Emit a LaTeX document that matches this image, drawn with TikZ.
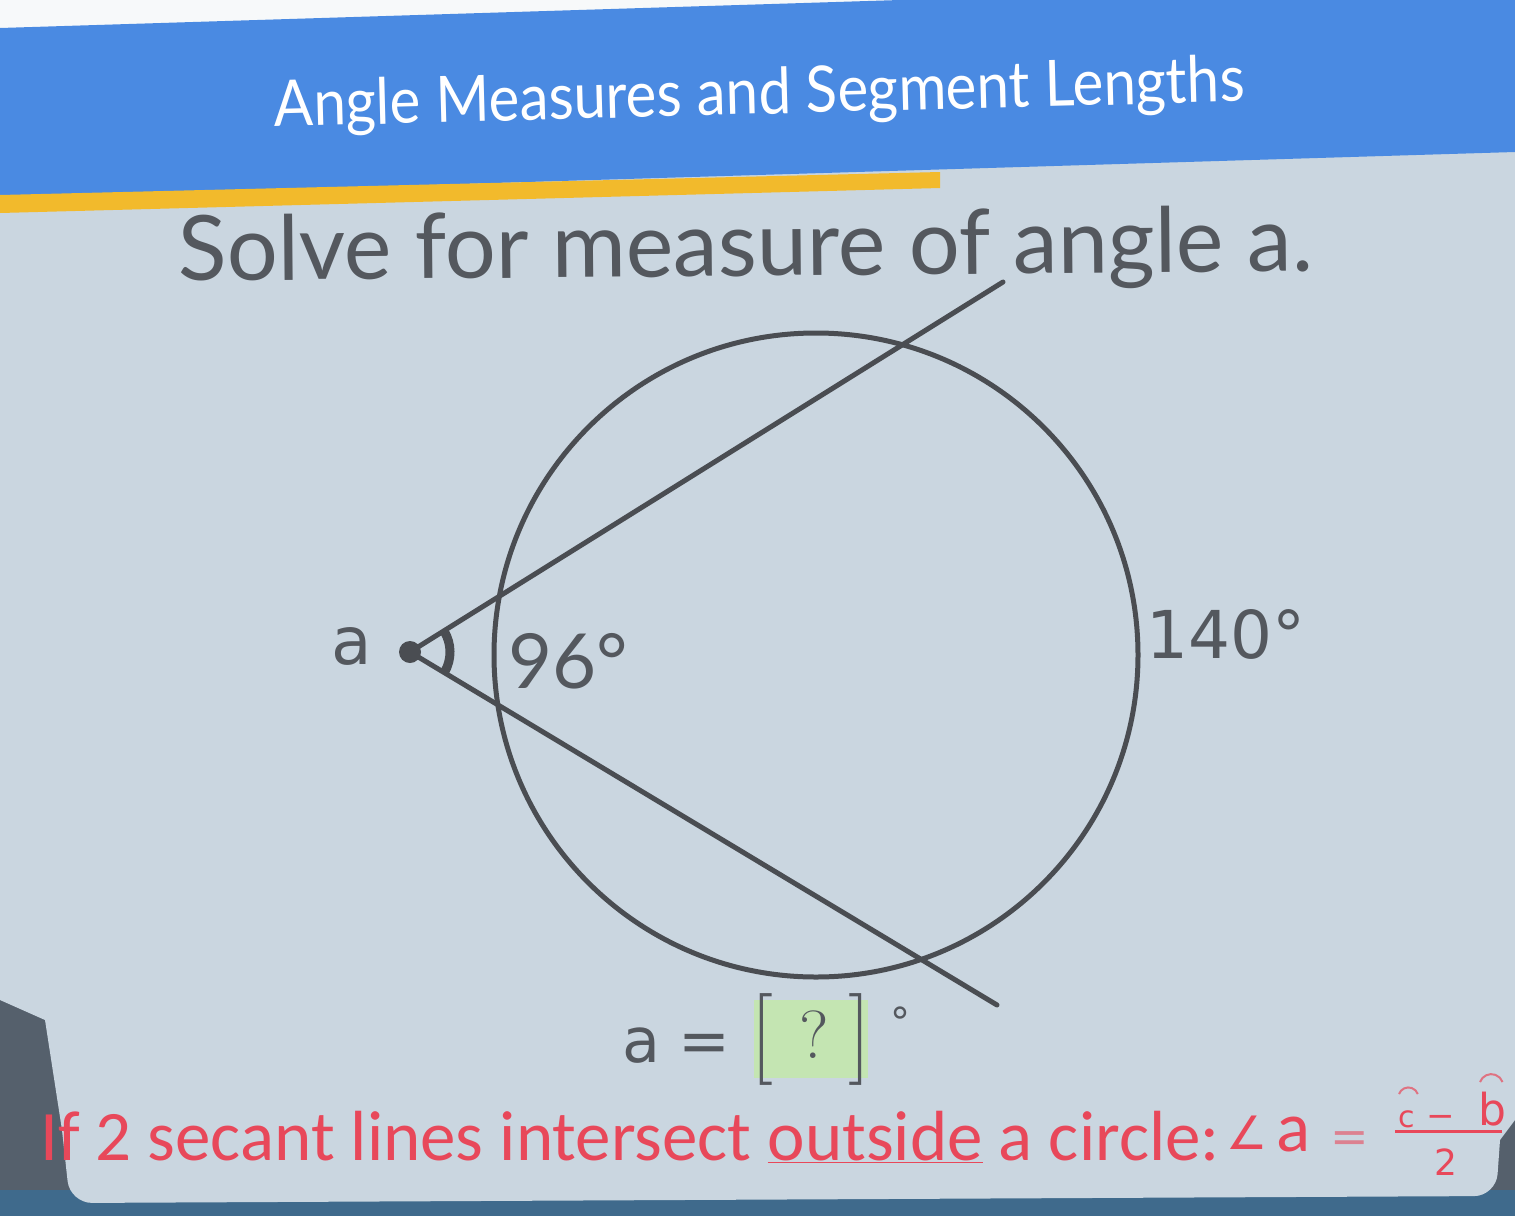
\documentclass[tikz,border=0pt]{standalone}
\usepackage{fontspec}
\newfontfamily\lato{Lato}
\newfontfamily\dejavu{DejaVu Sans}
\newfontfamily\carl{Carlito}
\definecolor{bg}{HTML}{CAD6E0}
\definecolor{banner}{HTML}{4A8AE2}
\definecolor{gold}{HTML}{F2BA2C}
\definecolor{ink}{HTML}{4A4D52}
\definecolor{txt}{HTML}{54585E}
\definecolor{redtxt}{HTML}{E8485A}
\definecolor{ansgreen}{HTML}{C4E5B2}
\definecolor{bezel}{HTML}{55606C}
\definecolor{bezelblue}{HTML}{3F6A8C}
\tikzset{
  geo/.style={draw=ink, line width=5pt},
  lbl/.style={text=txt, inner sep=0pt, anchor=base},
  rule/.style={text=redtxt, inner sep=0pt, anchor=base west},
  arcmark/.style={draw=redtxt!70!bg, line width=2pt},
}
\begin{document}
\begin{tikzpicture}[x=1pt,y=-1pt]
\useasboundingbox (0,0) rectangle (1515,1216);
% background, screen bezel and panel
\fill[bezel] (0,0) rectangle (1515,1216);
\fill[bezelblue] (0,1190) rectangle (1515,1216);
\fill[bg] (0,0) -- (1515,0) -- (1515,1120) -- (1500,1140)
  [rounded corners=22pt] -- (1496,1196) -- (70,1203)
  [sharp corners] -- (62,1130) -- (45,1020) -- (0,1000) -- cycle;
% banner
\fill[white!85!bg] (0,0) rectangle (1515,40);
\fill[banner] (0,28) -- (900,0) -- (1515,0) -- (1515,152) -- (0,198) -- cycle;
\fill[gold] (0,195) -- (940,172) -- (940,188) -- (0,213) -- cycle;
\node[text=white, font=\lato\fontsize{64}{70}\selectfont, anchor=base, rotate=1.5, xscale=0.91] (title) at (760,114) {Angle Measures and Segment Lengths};
\node[text=txt, font=\lato\fontsize{90}{94}\selectfont, anchor=base, rotate=0.5] (question) at (746,276) {Solve for measure of angle a.};
% geometry
\coordinate (O) at (816,655);
\coordinate (V) at (410,652);
\coordinate (U) at (1003,282);
\coordinate (L) at (997,1005);
\draw[geo] (O) circle[radius=322];
\draw[geo, line cap=round] (V) -- (U);
\draw[geo, line cap=round] (V) -- (L);
\draw[draw=ink, line width=9pt] (V) ++(-31:40) arc[start angle=-31, end angle=30, radius=40];
\fill[ink] (V) circle[radius=11];
% labels
\node[lbl, font=\dejavu\fontsize{66}{70}\selectfont] (la) at (352,664) {a};
\node[lbl, font=\lato\fontsize{76}{80}\selectfont] (l96) at (568,688) {96°};
\node[lbl, font=\dejavu\fontsize{66}{70}\selectfont] (l140) at (1226,658) {140°};
% answer
\fill[ansgreen] (754,1000) rectangle (868,1078);
\node[lbl, font=\dejavu\fontsize{62}{70}\selectfont] (aeq) at (676,1062) {a\hspace{18pt}=};
\node[lbl, font=\fontsize{92}{96}\selectfont] (lbr) at (762,1062) {[};
\node[lbl, font=\fontsize{68}{96}\selectfont] (qm) at (814,1058) {?};
\node[lbl, font=\fontsize{92}{96}\selectfont] (rbr) at (860,1062) {]};
\node[lbl, font=\dejavu\fontsize{40}{40}\selectfont] (deg) at (900,1036) {°};
% rule
\node[rule, font=\carl\fontsize{71}{75}\selectfont] (rule) at (40,1160) {If 2 secant lines intersect \underline{outside} a circle:};
\node[rule, font=\dejavu\fontsize{46}{50}\selectfont] (ang) at (1226,1149) {∠};
\node[rule, font=\carl\fontsize{71}{75}\selectfont] (aa) at (1276,1151) {a};
\node[rule, text=redtxt!60!bg, font=\dejavu\fontsize{46}{50}\selectfont] (eqs) at (1330,1152) {=};
\node[rule, font=\dejavu\fontsize{30}{40}\selectfont] (numc) at (1398,1127) {c};
\node[rule, font=\dejavu\fontsize{34}{40}\selectfont] (numm) at (1426,1127) {−};
\node[rule, font=\dejavu\fontsize{44}{40}\selectfont] (numb) at (1478,1125) {b};
\draw[redtxt, line width=3pt] (1395,1131) -- (1502,1131);
\node[rule, font=\dejavu\fontsize{36}{40}\selectfont] (den) at (1434,1175) {2};
\draw[arcmark] (1399,1094) arc[start angle=-160, end angle=-20, radius=10];
\draw[arcmark] (1480,1082) arc[start angle=-160, end angle=-20, radius=12];
\end{tikzpicture}
\end{document}
